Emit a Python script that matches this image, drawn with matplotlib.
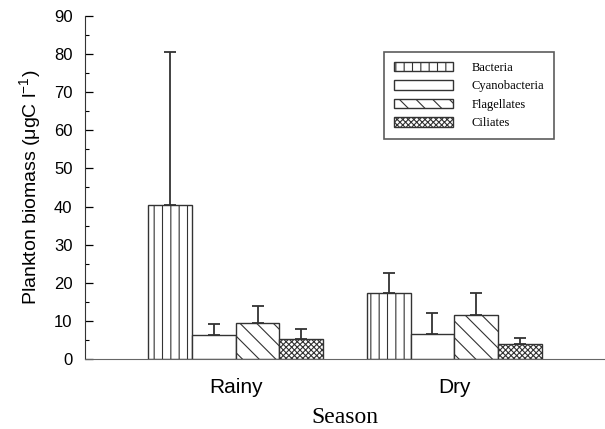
import numpy as np
import matplotlib

matplotlib.use("Agg")
import matplotlib.pyplot as plt

plt.rcParams["hatch.linewidth"] = 0.8

seasons = ["Rainy", "Dry"]
groups = ["Bacteria", "Cyanobacteria", "Flagellates", "Ciliates"]
means = {
    "Bacteria": [40.5, 17.3],
    "Cyanobacteria": [6.3, 6.6],
    "Flagellates": [9.4, 11.6],
    "Ciliates": [5.2, 4.0],
}
errs = {
    "Bacteria": [40.0, 5.3],
    "Cyanobacteria": [2.8, 5.5],
    "Flagellates": [4.6, 5.8],
    "Ciliates": [2.6, 1.5],
}
hatches = ["||", "", "\\\\", "xxxxxx"]

fig = plt.figure(figsize=(6.05, 4.29), dpi=100)
ax = fig.add_axes([0.1405, 0.1632, 0.8595, 0.7995])

x = np.arange(len(seasons))
w = 0.2
handles = []
for i, g in enumerate(groups):
    pos = x + (i - 1.5) * w
    b = ax.bar(pos, means[g], w, color="white", edgecolor="#333333", lw=1.0,
               hatch=hatches[i], zorder=2)
    handles.append(b)
    ax.errorbar(pos, means[g], yerr=[np.zeros(2), errs[g]], fmt="none",
                ecolor="#333333", elinewidth=1.3, capsize=4, capthick=1.3, zorder=3)

ax.set_xlim(-0.69, 1.69)
ax.set_ylim(0, 90)
ax.set_xticks(x)
ax.set_xticklabels(seasons, family="Liberation Sans", fontsize=15)
ax.set_yticks(np.arange(0, 91, 10))
ax.set_yticks(np.arange(5, 90, 10), minor=True)
for t in ax.get_yticklabels():
    t.set_family("Liberation Sans")
    t.set_fontsize(12)
ax.tick_params(axis="y", which="major", direction="in", length=6, width=0.9, pad=9)
ax.tick_params(axis="y", which="minor", direction="in", length=3, width=0.8)
ax.tick_params(axis="x", length=0, pad=14)
for s in ("top", "right"):
    ax.spines[s].set_visible(False)
ax.spines["left"].set_color("#333333")
ax.spines["bottom"].set_color("#666666")

ax.set_ylabel(r"Plankton biomass (μgC l$^{\mathregular{-1}}$)",
              family="Liberation Sans", fontsize=14, labelpad=7)
ax.set_xlabel("Season", family="Liberation Serif", fontsize=17, labelpad=7)

leg = ax.legend(handles, groups, loc="upper left", bbox_to_anchor=(0.635, 0.879),
                bbox_transform=fig.transFigure, prop={"family": "Liberation Serif", "size": 9},
                handlelength=4.7, handleheight=0.8, fancybox=False, frameon=True,
                borderpad=0.8, labelspacing=0.5, handletextpad=1.5, borderaxespad=0)
leg.get_frame().set_edgecolor("#333333")
leg.get_frame().set_linewidth(1.2)

fig.savefig("out.png", dpi=100)
